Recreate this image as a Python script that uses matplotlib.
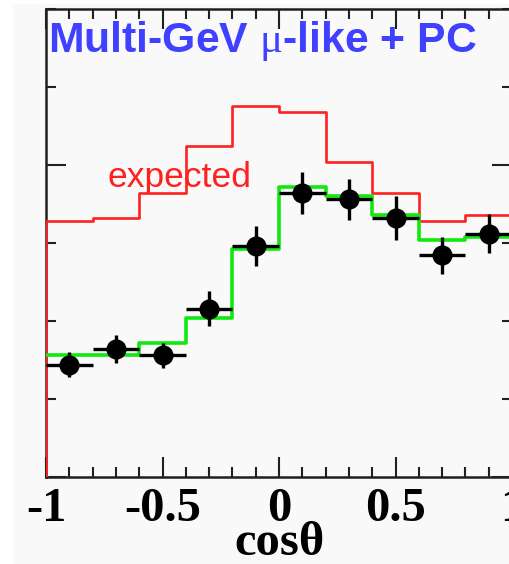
import numpy as np
import matplotlib.pyplot as plt
from matplotlib.patches import Rectangle
from matplotlib.ticker import MultipleLocator

# cos(zenith) binning, 10 bins from -1 to 1
bin_edges = [-1.0, -0.8, -0.6, -0.4, -0.2, 0.0, 0.2, 0.4, 0.6, 0.8, 1.0]
bin_centers = [-0.9, -0.7, -0.5, -0.3, -0.1, 0.1, 0.3, 0.5, 0.7, 0.9]

# no-oscillation expectation (red)
expected = [82, 83, 91, 106, 119, 117, 101, 91, 82, 84]
# best-fit oscillation prediction (green)
best_fit = [39, 39, 43, 51, 73, 93, 90, 84, 76, 77]
# observed events with statistical errors
data = [36, 41, 39, 54, 74, 91, 89, 83, 71, 78]
data_err = [4, 4.5, 4, 5.5, 6.5, 6.8, 6.5, 7, 6, 6.2]

x_ticks = [-1, -0.5, 0, 0.5, 1]
x_tick_labels = ['-1', '-0.5', '0', '0.5', '1']


def main():
    plt.rcParams['mathtext.fontset'] = 'custom'
    plt.rcParams['mathtext.rm'] = 'Liberation Serif'

    fig = plt.figure(figsize=(5.09, 5.64), dpi=100, facecolor='white')
    fig.patches.append(Rectangle((13 / 509, 0), 1, 1 - 4 / 564, transform=fig.transFigure,
                                 facecolor='#f9f9f9', edgecolor='none', zorder=-1))

    ax = fig.add_axes([46 / 509, 87 / 564, 466 / 509, 468 / 564])
    ax.set_facecolor('#f9f9f9')

    # histograms drawn as steps, closed down to zero on the left edge
    exp_y = [0] + expected + [expected[-1]]
    exp_x = [bin_edges[0] + 0.004] + bin_edges
    ax.step(exp_x, exp_y, where='post', color='#ff2020', lw=1.9, zorder=3)
    fit_y = best_fit + [best_fit[-1]]
    ax.step(bin_edges, fit_y, where='post', color='#10e810', lw=2.6, zorder=3.1)

    ax.errorbar(bin_centers, data, xerr=0.1, yerr=data_err, fmt='o', color='black',
                ms=13.5, elinewidth=2.4, capsize=0, zorder=4)

    ax.text(-0.738, 93, 'expected', color='#ff2020', fontsize=25.5,
            family='Liberation Sans', ha='left', va='baseline')
    ax.text(0.005, 0.978, r'Multi-GeV $\mathrm{\mu}$-like + PC', transform=ax.transAxes,
            color='#4040ff', fontsize=30.8, fontweight='bold', family='Liberation Sans',
            ha='left', va='top')

    ax.set_xlim(-1, 1)
    ax.set_ylim(0, 150)
    ax.set_xticks(x_ticks)
    ax.set_xticklabels(x_tick_labels, family='Liberation Serif', fontweight='bold', fontsize=35)
    ax.xaxis.set_minor_locator(MultipleLocator(0.1))
    ax.yaxis.set_major_locator(MultipleLocator(100))
    ax.yaxis.set_minor_locator(MultipleLocator(25))
    ax.tick_params(which='both', direction='in', top=True, right=True, width=1.5,
                   color='#202020', labelleft=False)
    ax.tick_params(which='major', length=14.5, pad=7)
    ax.tick_params(which='minor', length=7.5)
    fig.text(279 / 509, 9 / 564, 'cos\u03b8', family='Liberation Serif', fontweight='bold',
             fontsize=35, ha='center', va='baseline')
    for s in ax.spines.values():
        s.set_linewidth(1.8)
        s.set_color('#202020')

    fig.savefig('out.png', dpi=100, facecolor='white')


if __name__ == "__main__":
    main()
